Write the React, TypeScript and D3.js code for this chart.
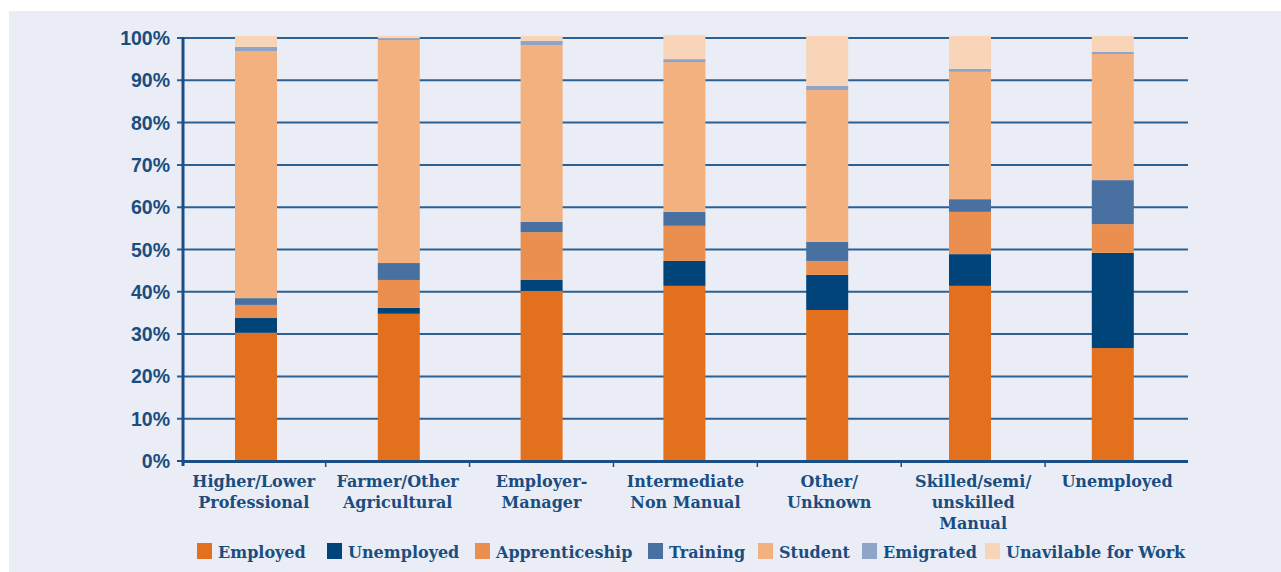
import React, { useRef, useEffect } from 'react';
import * as d3 from 'd3';

const categories = [
  ['Higher/Lower', 'Professional'],
  ['Farmer/Other', 'Agricultural'],
  ['Employer-', 'Manager'],
  ['Intermediate', 'Non Manual'],
  ['Other/', 'Unknown'],
  ['Skilled/semi/', 'unskilled', 'Manual'],
  ['Unemployed'],
];

const seriesNames = ['Employed', 'Unemployed', 'Apprenticeship', 'Training', 'Student', 'Emigrated', 'Unavilable for Work'];
const seriesColors = ['#e2701d', '#00447a', '#ea8f50', '#4871a2', '#f2b17f', '#8fa5c8', '#f8d5b9'];

const employed = [30.3, 34.8, 40.2, 41.4, 35.7, 41.4, 26.7];
const unemployed = [3.5, 1.4, 2.6, 5.9, 8.3, 7.5, 22.5];
const apprenticeship = [3.1, 6.6, 11.3, 8.3, 3.3, 10.0, 6.8];
const training = [1.6, 4.0, 2.4, 3.3, 4.5, 3.0, 10.4];
const student = [58.4, 52.7, 41.8, 35.4, 35.9, 30.1, 29.8];
const emigrated = [1.0, 0.4, 1.0, 0.7, 1.0, 0.7, 0.5];
const unavailable = [2.6, 0.6, 1.2, 5.7, 11.8, 7.8, 3.8];

const yTicks = [0, 10, 20, 30, 40, 50, 60, 70, 80, 90, 100];

const W = 1281;
const H = 572;
const textColor = '#1a4d80';
const serifFont = '"DejaVu Serif", serif';

const App = () => {
  const svgRef = useRef<SVGSVGElement>(null);

  useEffect(() => {
    const svg = d3.select(svgRef.current);
    svg.selectAll('*').remove();

    svg.append('rect')
      .attr('x', 9).attr('y', 11)
      .attr('width', W - 9).attr('height', H - 11)
      .attr('fill', '#eaedf5');

    // category slots (ticks, labels) and bar slots are slightly different in the original
    const x = d3.scaleBand<number>()
      .domain(d3.range(categories.length))
      .range([181.8, 1189]);
    const xBar = d3.scaleBand<number>()
      .domain(d3.range(categories.length))
      .range([184.6, 1184.2]);
    const y = d3.scaleLinear().domain([0, 100]).range([461, 38]);
    const barW = 42;

    // gridlines + y ticks
    yTicks.forEach(t => {
      if (t > 0) {
        svg.append('line')
          .attr('x1', 177).attr('x2', 1188)
          .attr('y1', y(t)).attr('y2', y(t))
          .attr('stroke', '#2b6095').attr('stroke-width', 2);
      } else {
        svg.append('line')
          .attr('x1', 177).attr('x2', 183)
          .attr('y1', y(t)).attr('y2', y(t))
          .attr('stroke', '#1a4f86').attr('stroke-width', 2);
      }
      svg.append('text')
        .attr('x', 170)
        .attr('y', y(t) + 7)
        .attr('text-anchor', 'end')
        .style('font-family', '"Liberation Sans", Arial, sans-serif')
        .style('font-weight', 'bold')
        .style('font-size', '19.5px')
        .attr('fill', textColor)
        .text(`${t}%`);
    });

    // stacked bars
    const table = categories.map((_, i) => ({
      i,
      s0: employed[i], s1: unemployed[i], s2: apprenticeship[i], s3: training[i],
      s4: student[i], s5: emigrated[i], s6: unavailable[i],
    }));
    const stack = d3.stack<any>().keys(['s0', 's1', 's2', 's3', 's4', 's5', 's6']);
    const layers = stack(table);

    layers.forEach((layer, k) => {
      svg.append('g')
        .selectAll('rect')
        .data(layer)
        .enter().append('rect')
        .attr('x', d => (xBar(d.data.i) as number) + xBar.bandwidth() / 2 - barW / 2)
        .attr('width', barW)
        .attr('y', d => y(d[1]))
        .attr('height', d => y(d[0]) - y(d[1]))
        .attr('fill', seriesColors[k]);
    });

    // axes
    svg.append('line')
      .attr('x1', 183).attr('x2', 183)
      .attr('y1', 37).attr('y2', 466)
      .attr('stroke', '#1a4f86').attr('stroke-width', 3);
    svg.append('line')
      .attr('x1', 182).attr('x2', 1188)
      .attr('y1', 461.5).attr('y2', 461.5)
      .attr('stroke', '#1a4f86').attr('stroke-width', 3);
    d3.range(1, categories.length).forEach(i => {
      const xx = x(i) as number;
      svg.append('line')
        .attr('x1', xx).attr('x2', xx)
        .attr('y1', 461).attr('y2', 467)
        .attr('stroke', '#1a4f86').attr('stroke-width', 1.5);
    });

    // category labels
    categories.forEach((lines, i) => {
      const cx = (x(i) as number) + x.bandwidth() / 2;
      const t = svg.append('text')
        .attr('text-anchor', 'middle')
        .style('font-family', serifFont)
        .style('font-weight', 'bold')
        .style('font-size', '16px')
        .attr('fill', textColor);
      lines.forEach((ln, j) => {
        t.append('tspan').attr('x', cx).attr('y', 487 + j * 21).text(ln);
      });
    });

    // legend
    const legendX = [197, 327, 475, 648, 758, 862, 985];
    seriesNames.forEach((name, k) => {
      svg.append('rect')
        .attr('x', legendX[k]).attr('y', 543)
        .attr('width', 15).attr('height', 16)
        .attr('fill', seriesColors[k]);
      svg.append('text')
        .attr('x', legendX[k] + 21).attr('y', 558)
        .style('font-family', serifFont)
        .style('font-weight', 'bold')
        .style('font-size', '16px')
        .attr('fill', textColor)
        .text(name);
    });
  }, []);

  return (
    <svg
      ref={svgRef}
      width={W}
      height={H}
      style={{ position: 'absolute', left: 0, top: 0, background: '#ffffff' }}
    />
  );
};

export default App;
